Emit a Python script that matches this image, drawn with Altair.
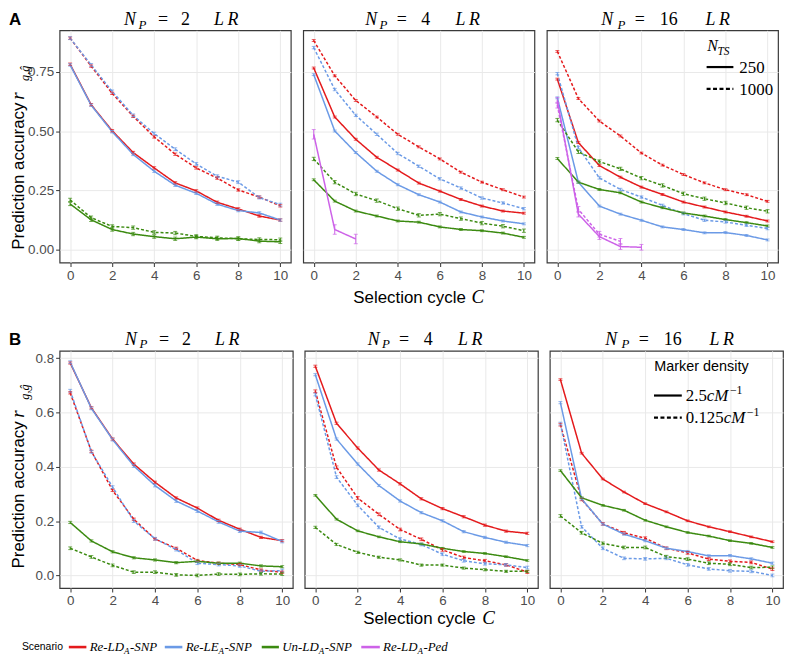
import altair as alt
import pandas as pd

# ---------------- data ----------------
SCENARIOS = ["Re-LD_A-SNP", "Re-LE_A-SNP", "Un-LD_A-SNP", "Re-LD_A-Ped"]
SCEN_COLORS = ["#e41a1c", "#6b9ae6", "#3b8a10", "#cd62e8"]
X_TICKS = [0, 2, 4, 6, 8, 10]
Y_TICKS_A = [0.0, 0.25, 0.5, 0.75]
Y_TICKS_B = [0.0, 0.2, 0.4, 0.6, 0.8]
NP_VALUES = [2, 4, 16]
LT_DOMAIN = ["250", "1000", "2.5", "0.125"]

A2_RELD_250 = [0.783, 0.612, 0.502, 0.41, 0.345, 0.282, 0.248, 0.2, 0.172, 0.142, 0.125]
A2_RELD_1000 = [0.893, 0.775, 0.66, 0.563, 0.476, 0.403, 0.345, 0.302, 0.252, 0.222, 0.185]
A2_RELE_250 = [0.78, 0.61, 0.498, 0.402, 0.331, 0.272, 0.238, 0.192, 0.165, 0.155, 0.125]
A2_RELE_1000 = [0.893, 0.78, 0.668, 0.567, 0.49, 0.424, 0.362, 0.31, 0.285, 0.22, 0.19]
A2_UNLD_250 = [0.193, 0.126, 0.085, 0.066, 0.055, 0.046, 0.053, 0.046, 0.047, 0.036, 0.033]
A2_UNLD_1000 = [0.21, 0.135, 0.098, 0.093, 0.073, 0.07, 0.056, 0.05, 0.046, 0.043, 0.042]

A4_RELD_250 = [0.767, 0.56, 0.466, 0.39, 0.336, 0.281, 0.247, 0.212, 0.184, 0.163, 0.154]
A4_RELD_1000 = [0.883, 0.734, 0.63, 0.56, 0.487, 0.434, 0.383, 0.327, 0.285, 0.253, 0.222]
A4_RELE_250 = [0.739, 0.501, 0.41, 0.331, 0.274, 0.232, 0.201, 0.159, 0.138, 0.121, 0.109]
A4_RELE_1000 = [0.853, 0.676, 0.567, 0.487, 0.406, 0.352, 0.299, 0.26, 0.218, 0.197, 0.173]
A4_UNLD_250 = [0.295, 0.205, 0.163, 0.142, 0.121, 0.116, 0.096, 0.085, 0.08, 0.07, 0.052]
A4_UNLD_1000 = [0.383, 0.285, 0.235, 0.207, 0.173, 0.145, 0.15, 0.131, 0.112, 0.099, 0.08]
A4_PED_250 = [0.487, 0.085, 0.045]

A16_RELD_250 = [0.72, 0.452, 0.355, 0.306, 0.264, 0.233, 0.201, 0.18, 0.159, 0.141, 0.121]
A16_RELD_1000 = [0.837, 0.638, 0.543, 0.48, 0.408, 0.357, 0.317, 0.282, 0.253, 0.232, 0.204]
A16_RELE_250 = [0.641, 0.285, 0.184, 0.15, 0.124, 0.096, 0.085, 0.071, 0.072, 0.06, 0.041]
A16_RELE_1000 = [0.743, 0.431, 0.303, 0.254, 0.222, 0.187, 0.152, 0.124, 0.117, 0.103, 0.089]
A16_UNLD_250 = [0.385, 0.285, 0.254, 0.24, 0.201, 0.177, 0.155, 0.142, 0.127, 0.114, 0.1]
A16_UNLD_1000 = [0.547, 0.413, 0.372, 0.341, 0.302, 0.271, 0.236, 0.215, 0.197, 0.177, 0.162]
A16_PED_250 = [0.63, 0.15, 0.055, 0.013, 0.01]
A16_PED_1000 = [0.61, 0.17, 0.065, 0.035]

B2_RELD_25 = [0.782, 0.617, 0.502, 0.41, 0.343, 0.285, 0.248, 0.203, 0.17, 0.14, 0.128]
B2_RELD_0125 = [0.672, 0.457, 0.313, 0.207, 0.134, 0.1, 0.055, 0.045, 0.04, 0.02, 0.012]
B2_RELE_25 = [0.785, 0.615, 0.5, 0.403, 0.331, 0.274, 0.237, 0.197, 0.163, 0.158, 0.125]
B2_RELE_0125 = [0.68, 0.455, 0.325, 0.2, 0.135, 0.095, 0.045, 0.04, 0.035, 0.015, 0.018]
B2_UNLD_25 = [0.195, 0.127, 0.087, 0.065, 0.057, 0.047, 0.052, 0.045, 0.045, 0.035, 0.032]
B2_UNLD_0125 = [0.1, 0.068, 0.037, 0.012, 0.012, 0.002, 0.0, 0.005, 0.004, 0.006, 0.005]

B4_RELD_25 = [0.77, 0.56, 0.469, 0.388, 0.337, 0.282, 0.246, 0.216, 0.185, 0.163, 0.155]
B4_RELD_0125 = [0.678, 0.398, 0.285, 0.225, 0.169, 0.133, 0.094, 0.066, 0.054, 0.039, 0.012]
B4_RELE_25 = [0.739, 0.502, 0.41, 0.331, 0.274, 0.231, 0.201, 0.161, 0.14, 0.122, 0.11]
B4_RELE_0125 = [0.666, 0.362, 0.258, 0.177, 0.134, 0.114, 0.078, 0.054, 0.043, 0.039, 0.029]
B4_UNLD_25 = [0.295, 0.207, 0.164, 0.142, 0.124, 0.116, 0.1, 0.088, 0.081, 0.069, 0.055]
B4_UNLD_0125 = [0.177, 0.114, 0.085, 0.067, 0.057, 0.038, 0.038, 0.027, 0.021, 0.015, 0.015]

B16_RELD_25 = [0.721, 0.45, 0.355, 0.307, 0.264, 0.234, 0.201, 0.179, 0.161, 0.142, 0.124]
B16_RELD_0125 = [0.555, 0.28, 0.19, 0.157, 0.137, 0.1, 0.083, 0.06, 0.052, 0.048, 0.023]
B16_RELE_25 = [0.636, 0.282, 0.189, 0.152, 0.128, 0.1, 0.088, 0.072, 0.073, 0.061, 0.045]
B16_RELE_0125 = [0.559, 0.179, 0.1, 0.063, 0.061, 0.063, 0.039, 0.024, 0.017, 0.015, 0.0]
B16_UNLD_25 = [0.386, 0.286, 0.258, 0.24, 0.203, 0.179, 0.158, 0.145, 0.128, 0.118, 0.103]
B16_UNLD_0125 = [0.219, 0.157, 0.118, 0.103, 0.103, 0.069, 0.06, 0.045, 0.041, 0.029, 0.03]

SERIES = [
    ("A", 2, "Re-LD_A-SNP", "250", A2_RELD_250, 0.005),
    ("A", 2, "Re-LD_A-SNP", "1000", A2_RELD_1000, 0.005),
    ("A", 2, "Re-LE_A-SNP", "250", A2_RELE_250, 0.005),
    ("A", 2, "Re-LE_A-SNP", "1000", A2_RELE_1000, 0.006),
    ("A", 2, "Un-LD_A-SNP", "250", A2_UNLD_250, 0.007),
    ("A", 2, "Un-LD_A-SNP", "1000", A2_UNLD_1000, 0.007),
    ("A", 4, "Re-LD_A-SNP", "250", A4_RELD_250, 0.004),
    ("A", 4, "Re-LD_A-SNP", "1000", A4_RELD_1000, 0.004),
    ("A", 4, "Re-LE_A-SNP", "250", A4_RELE_250, 0.004),
    ("A", 4, "Re-LE_A-SNP", "1000", A4_RELE_1000, 0.005),
    ("A", 4, "Un-LD_A-SNP", "250", A4_UNLD_250, 0.004),
    ("A", 4, "Un-LD_A-SNP", "1000", A4_UNLD_1000, 0.007),
    ("A", 4, "Re-LD_A-Ped", "250", A4_PED_250, 0.02),
    ("A", 16, "Re-LD_A-SNP", "250", A16_RELD_250, 0.004),
    ("A", 16, "Re-LD_A-SNP", "1000", A16_RELD_1000, 0.004),
    ("A", 16, "Re-LE_A-SNP", "250", A16_RELE_250, 0.004),
    ("A", 16, "Re-LE_A-SNP", "1000", A16_RELE_1000, 0.005),
    ("A", 16, "Un-LD_A-SNP", "250", A16_UNLD_250, 0.004),
    ("A", 16, "Un-LD_A-SNP", "1000", A16_UNLD_1000, 0.007),
    ("A", 16, "Re-LD_A-Ped", "250", A16_PED_250, 0.012),
    ("A", 16, "Re-LD_A-Ped", "1000", A16_PED_1000, 0.012),
    ("B", 2, "Re-LD_A-SNP", "2.5", B2_RELD_25, 0.004),
    ("B", 2, "Re-LD_A-SNP", "0.125", B2_RELD_0125, 0.004),
    ("B", 2, "Re-LE_A-SNP", "2.5", B2_RELE_25, 0.005),
    ("B", 2, "Re-LE_A-SNP", "0.125", B2_RELE_0125, 0.005),
    ("B", 2, "Un-LD_A-SNP", "2.5", B2_UNLD_25, 0.004),
    ("B", 2, "Un-LD_A-SNP", "0.125", B2_UNLD_0125, 0.005),
    ("B", 4, "Re-LD_A-SNP", "2.5", B4_RELD_25, 0.004),
    ("B", 4, "Re-LD_A-SNP", "0.125", B4_RELD_0125, 0.005),
    ("B", 4, "Re-LE_A-SNP", "2.5", B4_RELE_25, 0.004),
    ("B", 4, "Re-LE_A-SNP", "0.125", B4_RELE_0125, 0.005),
    ("B", 4, "Un-LD_A-SNP", "2.5", B4_UNLD_25, 0.003),
    ("B", 4, "Un-LD_A-SNP", "0.125", B4_UNLD_0125, 0.004),
    ("B", 16, "Re-LD_A-SNP", "2.5", B16_RELD_25, 0.003),
    ("B", 16, "Re-LD_A-SNP", "0.125", B16_RELD_0125, 0.005),
    ("B", 16, "Re-LE_A-SNP", "2.5", B16_RELE_25, 0.004),
    ("B", 16, "Re-LE_A-SNP", "0.125", B16_RELE_0125, 0.005),
    ("B", 16, "Un-LD_A-SNP", "2.5", B16_UNLD_25, 0.003),
    ("B", 16, "Un-LD_A-SNP", "0.125", B16_UNLD_0125, 0.005),
]

rows = []
for r, np_, scen, lt, vals, se in SERIES:
    for c, v in enumerate(vals):
        rows.append({"row": r, "NP": np_, "scen": scen, "lt": lt, "key": f"{scen}|{lt}",
                     "C": c, "v": v, "lo": v - se, "hi": v + se})
df = pd.DataFrame(rows)
ONE = pd.DataFrame({"k": [0]})

# ---------------- layout ----------------
SERIF = "Liberation Serif"
SANS = "Liberation Sans"
LEFT0 = 59.0
TOP_A, BOT_A, ZERO_A, PPU_A = 27.0, 261.0, 248.0, 238.67
TOP_B, BOT_B, ZERO_B, PPU_B = 347.7, 586.7, 574.0, 273.75
W_A, SP_A = 233.0, 12.5
W_B, SP_B = 235.0, 12.0

ROWCFG = {
    "A": dict(w=W_A, sp=SP_A, top=TOP_A, h=BOT_A - TOP_A,
              ydom=[-(BOT_A - ZERO_A) / PPU_A, (ZERO_A - TOP_A) / PPU_A],
              yticks=Y_TICKS_A, yfmt=".2f", title_base=-5.0,
              ylab=(248.0, 97.0, 78.0), xlab=(355.0, 474.0, 301.7)),
    "B": dict(w=W_B, sp=SP_B, top=TOP_B, h=BOT_B - TOP_B,
              ydom=[-(BOT_B - ZERO_B) / PPU_B, (ZERO_B - TOP_B) / PPU_B],
              yticks=Y_TICKS_B, yfmt=".1f", title_base=-6.0,
              ylab=(567.0, 415.0, 397.0), xlab=(365.0, 485.0, 623.0)),
}
LETTERS = {"A": "A", "B": "B"}

TITLE_OFFSETS = {2: (-45.5, -33.0, -12.2, 10.3, 51.2),
                 4: (-48.0, -35.6, -17.3, 6.9, 49.0),
                 16: (-55.7, -41.2, -22.8, 6.3, 55.5)}

IT_W = {"R": 0.611, "e": 0.444, "-": 0.333, "L": 0.556, "D": 0.722, "A": 0.611, "S": 0.5,
        "N": 0.667, "P": 0.611, "E": 0.611, "U": 0.722, "n": 0.5, "d": 0.5, "c": 0.444, "M": 0.833}
RM_W = {d: 0.5 for d in "0123456789"}
RM_W["."] = 0.25


def tw(s, table, size):
    return sum(table[ch] for ch in s) * size


def text_mark(text, x, y, size, font=SERIF, style="normal", weight="normal",
              align="left", angle=0, color="#000000"):
    kw = dict(text=text, font=font, fontSize=size, fontStyle=style, fontWeight=weight,
              align=align, baseline="alphabetic", color=color)
    if angle:
        kw["angle"] = angle
    return alt.Chart(ONE).mark_text(**kw).encode(x=alt.value(x), y=alt.value(y))


def rule_mark(x1, x2, y, color, width, dash=None):
    kw = dict(color=color, strokeWidth=width)
    if dash:
        kw["strokeDash"] = dash
    return alt.Chart(ONE).mark_rule(**kw).encode(x=alt.value(x1), x2=alt.value(x2), y=alt.value(y))


def panel(row, idx):
    cfg = ROWCFG[row]
    np_ = NP_VALUES[idx]
    W, H = cfg["w"], cfg["h"]
    left = LEFT0 + idx * (W + cfg["sp"])
    top = cfg["top"]
    first = idx == 0
    d = df[(df.row == row) & (df.NP == np_)]
    base = alt.Chart(d)
    xenc = alt.X("C:Q", scale=alt.Scale(domain=[-0.5, 10.5], nice=False, zero=False),
                 axis=alt.Axis(values=X_TICKS, title=None, grid=True, domain=False, tickSize=4,
                               labelPadding=2, labelFlush=False, labelOverlap=False))
    yenc = alt.Y("v:Q", scale=alt.Scale(domain=cfg["ydom"], nice=False, zero=False),
                 axis=alt.Axis(values=cfg["yticks"], format=cfg["yfmt"], title=None, labels=first,
                               ticks=first, tickSize=4, labelPadding=2, domain=False, grid=True,
                               labelFlush=False, labelOverlap=False))
    color = alt.Color("scen:N", scale=alt.Scale(domain=SCENARIOS, range=SCEN_COLORS), legend=None)
    dash = alt.StrokeDash("lt:N", scale=alt.Scale(domain=LT_DOMAIN,
                                                   range=[[1, 0], [3, 2], [1, 0], [3, 2]]), legend=None)
    lines = base.mark_line(strokeWidth=1.5).encode(x=xenc, y=yenc, color=color, strokeDash=dash,
                                                  detail="key:N", order="C:Q")
    err = base.mark_rule(strokeWidth=1).encode(x="C:Q", y="lo:Q", y2="hi:Q", color=color)
    cap_lo = base.mark_tick(orient="horizontal", size=4, thickness=1).encode(x="C:Q", y="lo:Q", color=color)
    cap_hi = base.mark_tick(orient="horizontal", size=4, thickness=1).encode(x="C:Q", y="hi:Q", color=color)
    layers = [lines, err, cap_lo, cap_hi]

    tb = cfg["title_base"]
    n_o, p_o, eq_o, num_o, lr_o = TITLE_OFFSETS[np_]
    cx = W / 2
    layers += [
        text_mark("N", cx + n_o, tb, 18, style="italic", align="center"),
        text_mark("P", cx + p_o, tb + 3.5, 13, style="italic", align="center"),
        text_mark("=", cx + eq_o, tb, 18, align="center"),
        text_mark(str(np_), cx + num_o, tb, 18, align="center"),
        text_mark("L", cx + lr_o - 7.0, tb, 18, style="italic", align="center"),
        text_mark("R", cx + lr_o + 7.0, tb, 18, style="italic", align="center"),
    ]

    if first:
        yb, yr, ys = cfg["ylab"]
        bx = -36.0
        layers += [
            text_mark(LETTERS[row], -51.0, tb, 17, font=SANS, weight="bold"),
            text_mark("Prediction accuracy", bx, yb - top, 17, font=SANS, angle=270),
            text_mark("r", bx, yr - top, 19, style="italic", angle=270),
            text_mark("g,ĝ", bx + 5.0, ys - top, 12.5, style="italic", angle=270),
        ]
    if idx == 1:
        xs, xc, xbase = cfg["xlab"]
        layers += [
            text_mark("Selection cycle", xs - left, xbase - top, 17, font=SANS),
            text_mark("C", xc - left, xbase - top, 19, style="italic"),
        ]

    def ry(a):
        return a - top

    def rx(a):
        return a - left

    if idx == 2 and row == "A":
        layers += [
            text_mark("N", rx(711.7), ry(48.0), 16, style="italic"),
            text_mark("TS", rx(722.0), ry(52.0), 11.5, style="italic"),
            rule_mark(rx(711.0), rx(738.0), ry(64.0), "#000000", 2.2),
            rule_mark(rx(711.0), rx(738.0), ry(86.0), "#000000", 2.2, [4, 2.5]),
            text_mark("250", rx(744.0), ry(70.0), 17),
            text_mark("1000", rx(744.0), ry(92.0), 17),
        ]
    if idx == 2 and row == "B":
        layers += [
            text_mark("Marker density", rx(658.3), ry(367.5), 14.5, font=SANS),
            rule_mark(rx(658.0), rx(686.0), ry(392.7), "#000000", 2.2),
            rule_mark(rx(658.0), rx(686.0), ry(415.0), "#000000", 2.2, [4, 2.5]),
        ]
        for num, base_y in (("2.5", 398.0), ("0.125", 420.3)):
            x0 = rx(690.0)
            x1 = x0 + tw(num, RM_W, 17)
            x2 = x1 + tw("cM", IT_W, 17) + 1.5
            layers += [
                text_mark(num, x0, ry(base_y), 17),
                text_mark("cM", x1, ry(base_y), 17, style="italic"),
                text_mark("\u22121", x2, ry(base_y) - 7.0, 12),
            ]
    return alt.layer(*layers).properties(width=W, height=H)


row_a = alt.hconcat(*[panel("A", i) for i in range(3)], spacing=SP_A, bounds="flush")
row_b = alt.hconcat(*[panel("B", i) for i in range(3)], spacing=SP_B, bounds="flush")

# ---------------- bottom legend ----------------
# the legend view's origin is aligned with the plot areas' left edge (LEFT0)
LEG_TOP = 634.0
LEG_LINE_Y = 644.5
LEG_BASE_Y = 648.0
leg_layers = [text_mark("Scenario", 21.0 - LEFT0, LEG_BASE_Y - 0.5 - LEG_TOP, 10.5, font=SANS)]
LEG_ITEMS = [
    (SCENARIOS[0], ("Re-LD", "A", "-SNP"), 68.3, 86.0, 89.3),
    (SCENARIOS[1], ("Re-LE", "A", "-SNP"), 165.0, 182.7, 186.0),
    (SCENARIOS[2], ("Un-LD", "A", "-SNP"), 262.7, 280.0, 283.3),
    (SCENARIOS[3], ("Re-LD", "A", "-Ped"), 363.0, 381.7, 385.0),
]
for scen, (p1, p2, p3), lx1, lx2, tx in LEG_ITEMS:
    col = SCEN_COLORS[SCENARIOS.index(scen)]
    yb = LEG_BASE_Y - LEG_TOP
    leg_layers.append(rule_mark(lx1 - LEFT0, lx2 - LEFT0, LEG_LINE_Y - LEG_TOP, col, 2.6))
    x0 = tx - LEFT0
    x1 = x0 + tw(p1, IT_W, 13)
    x2 = x1 + tw(p2, IT_W, 9) + 0.5
    leg_layers += [
        text_mark(p1, x0, yb, 13, style="italic"),
        text_mark(p2, x1, yb + 3.0, 9, style="italic"),
        text_mark(p3, x2, yb, 13, style="italic"),
    ]
legend = alt.layer(*leg_layers).properties(width=420, height=14,
                                           view=alt.ViewBackground(stroke="transparent"))

lower = alt.vconcat(row_b, legend, spacing=7)
chart = alt.vconcat(row_a, lower, spacing=22).properties(padding=0, background="white")
chart = chart.configure_view(stroke="#3a3a3a", strokeWidth=1.2).configure_axis(
    gridColor="#e9e9e9", gridWidth=1, tickColor="#333333", labelColor="#4d4d4d",
    labelFont=SANS, labelFontSize=13.5)

chart.save("out.html", embed_options={"renderer": "svg", "actions": False})
